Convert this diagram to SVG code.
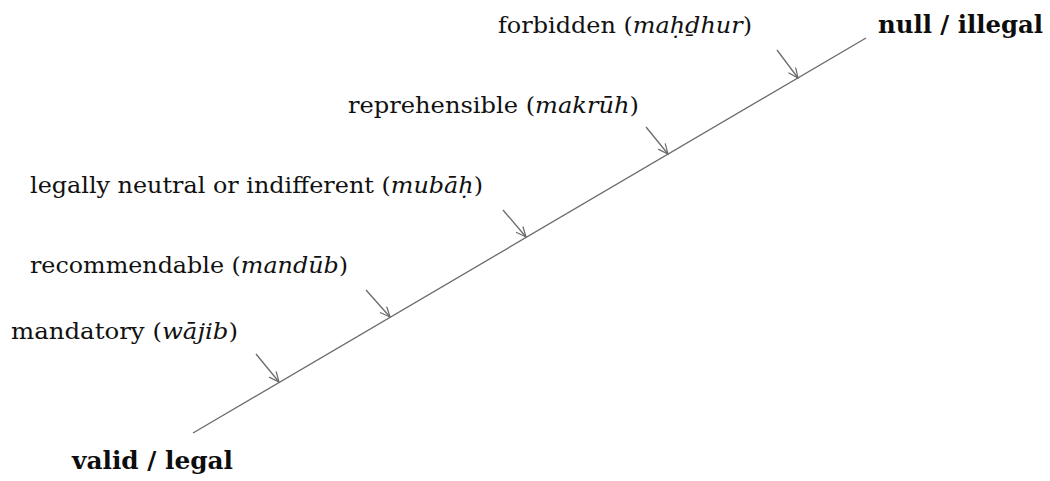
<svg xmlns="http://www.w3.org/2000/svg" width="1050" height="481" viewBox="0 0 1050 481">
<style>
.lbl{font-family:"DejaVu Serif","Liberation Serif",serif;font-size:22px;fill:#111}
.it{font-style:italic}
.ttl{font-family:"DejaVu Serif","Liberation Serif",serif;font-size:25px;font-weight:bold;fill:#0d0d0d}
.ln{stroke:#6a6a6a;stroke-width:1.3;fill:none}
</style>
<defs>
<marker id="ah" markerWidth="12" markerHeight="12" refX="11" refY="5" orient="auto" markerUnits="userSpaceOnUse">
<path d="M1,0.5 L11,5 L1,9.5" fill="none" stroke="#6a6a6a" stroke-width="1.2"/>
</marker>
</defs>
<rect width="1050" height="481" fill="#fff"/>
<g id="connectors">
<line class="ln" x1="193" y1="433" x2="866" y2="38"/>
<line class="ln" x1="256" y1="354" x2="279" y2="382" marker-end="url(#ah)"/>
<line class="ln" x1="366" y1="290" x2="390" y2="317" marker-end="url(#ah)"/>
<line class="ln" x1="503" y1="210" x2="526" y2="237" marker-end="url(#ah)"/>
<line class="ln" x1="646" y1="127" x2="668" y2="154" marker-end="url(#ah)"/>
<line class="ln" x1="777" y1="50" x2="798" y2="78" marker-end="url(#ah)"/>
</g>
<g id="null-illegal"><text class="ttl" x="878" y="33" textLength="165" lengthAdjust="spacingAndGlyphs">null / illegal</text></g>
<g id="valid-legal"><text class="ttl" x="72" y="469" textLength="161" lengthAdjust="spacingAndGlyphs">valid / legal</text></g>
<g id="forbidden"><text class="lbl" x="498" y="33" textLength="254" lengthAdjust="spacingAndGlyphs">forbidden (<tspan class="it">maḥḏhur</tspan>)</text></g>
<g id="reprehensible"><text class="lbl" x="348" y="113" textLength="291" lengthAdjust="spacingAndGlyphs">reprehensible (<tspan class="it">makrūh</tspan>)</text></g>
<g id="neutral"><text class="lbl" x="30" y="193" textLength="453" lengthAdjust="spacingAndGlyphs">legally neutral or indifferent (<tspan class="it">mubāḥ</tspan>)</text></g>
<g id="recommendable"><text class="lbl" x="30" y="273" textLength="318" lengthAdjust="spacingAndGlyphs">recommendable (<tspan class="it">mandūb</tspan>)</text></g>
<g id="mandatory"><text class="lbl" x="11" y="339" textLength="227" lengthAdjust="spacingAndGlyphs">mandatory (<tspan class="it">wājib</tspan>)</text></g>
</svg>
